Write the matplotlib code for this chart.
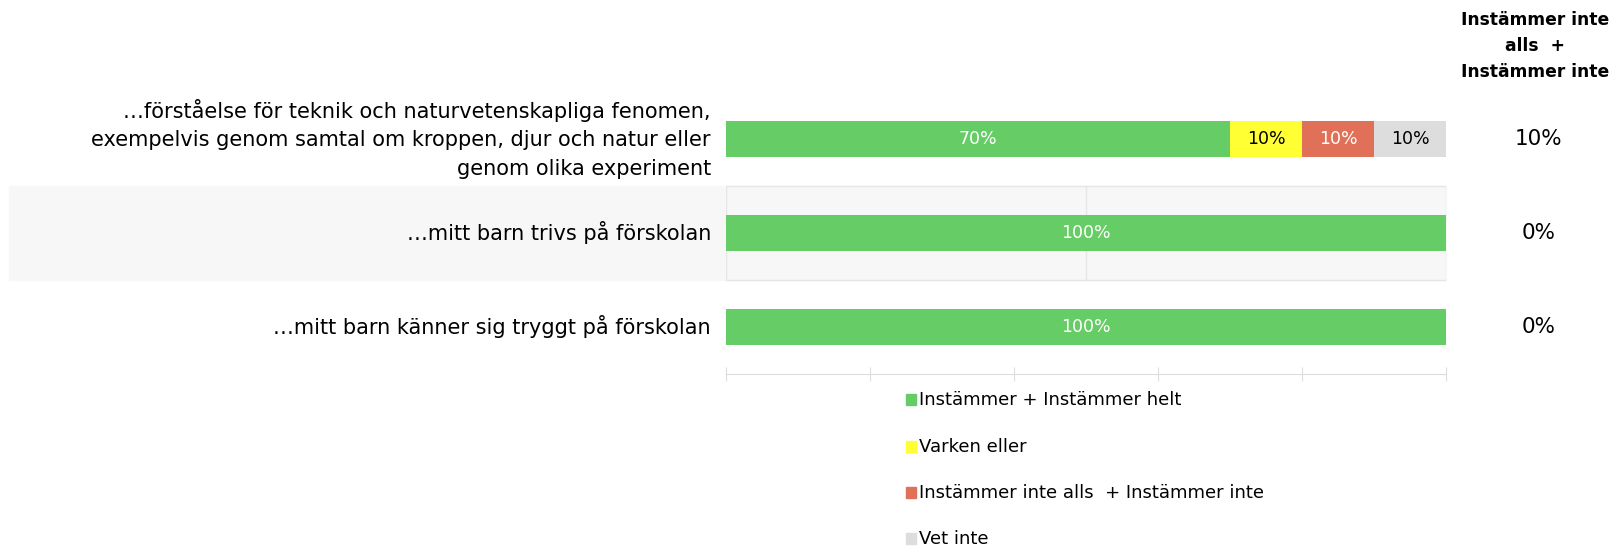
import matplotlib
matplotlib.use("Agg")
import matplotlib.pyplot as plt
from matplotlib.patches import Rectangle
import numpy as np

plt.rcParams['font.family'] = ['DejaVu Sans']

questions = [
    "…förståelse för teknik och naturvetenskapliga fenomen,\nexempelvis genom samtal om kroppen, djur och natur eller\ngenom olika experiment",
    "…mitt barn trivs på förskolan",
    "…mitt barn känner sig tryggt på förskolan",
]
series_names = [
    "Instämmer + Instämmer helt",
    "Varken eller",
    "Instämmer inte alls  + Instämmer inte",
    "Vet inte",
]
agree = [70, 100, 100]
neither = [10, 0, 0]
disagree = [10, 0, 0]
dont_know = [10, 0, 0]
side_header = "Instämmer inte\nalls  +\nInstämmer inte"
side_values = [10, 0, 0]

colors = ["#66CC66", "#FFFF33", "#E07058", "#DDDDDD"]
text_colors = ["white", "black", "white", "black"]

W, H = 1615, 547
fig = plt.figure(figsize=(W / 100, H / 100), dpi=100)

# axes spans rows from y=92px to y=374px
ax = fig.add_axes([726 / W, 1 - 374 / H, 720 / W, 282 / H])
ax.set_xlim(0, 100)
ax.set_ylim(2.5, -0.5)
ax.patch.set_alpha(0)
ax.set_zorder(2)

# shaded band behind second row
fig.patches.append(Rectangle((9 / W, 1 - 280 / H), (1446 - 9) / W, 94 / H,
                             transform=fig.transFigure, color="#F7F7F7", zorder=-5))
ax.hlines([0.5, 1.5], 0, 100, color="#E6E6E6", lw=1, zorder=1)
ax.vlines([0, 50, 100], 0.5, 1.5, color="#E6E6E6", lw=1, zorder=1)

y = np.arange(len(questions))
data = [agree, neither, disagree, dont_know]
left = np.zeros(len(questions))
for vals, c, tc in zip(data, colors, text_colors):
    vals = np.array(vals, dtype=float)
    ax.barh(y, vals, left=left, height=0.39, color=c, zorder=2)
    for yi, (l, v) in enumerate(zip(left, vals)):
        if v > 0:
            ax.text(l + v / 2, yi, f"{v:.0f}%", ha="center", va="center",
                    color=tc, fontsize=12.5, zorder=3)
    left += vals

ax.set_yticks([])
ax.set_xticks(np.arange(0, 101, 20))
ax.tick_params(axis="x", direction="inout", length=10, color="#DDDDDD",
               labelbottom=False)
for s in ["top", "left", "right"]:
    ax.spines[s].set_visible(False)
ax.spines["bottom"].set_color("#DDDDDD")

# question labels
for yi, q in enumerate(questions):
    ax.text(-2.1, yi, q, ha="right", va="center", fontsize=15,
            linespacing=1.55, clip_on=False)

# side column
fig.text(1535 / W, 1 - 46 / H, side_header, ha="center", va="center",
         fontsize=12.3, fontweight="bold", linespacing=1.55)
for yi, v in enumerate(side_values):
    disp = ax.transData.transform((0, yi))
    fy = fig.transFigure.inverted().transform(disp)[1]
    fig.text(1539 / W, fy, f"{v}%", ha="center", va="center", fontsize=15.5)

# legend
leg_y = [400, 447, 493, 539]
for name, c, ly in zip(series_names, colors, leg_y):
    fig.patches.append(Rectangle((906 / W, 1 - (ly + 5) / H), 10 / W, 11 / H,
                                 transform=fig.transFigure, color=c))
    fig.text(919 / W, 1 - ly / H, name, ha="left", va="center", fontsize=13)

fig.savefig("out.png", dpi=100)
